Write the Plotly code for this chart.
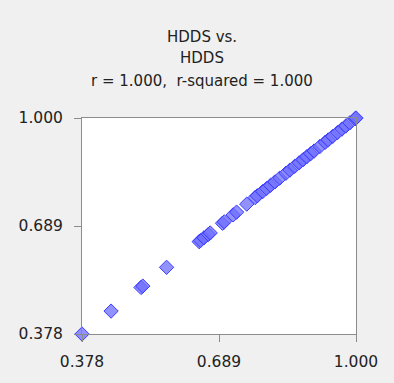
import plotly.graph_objects as go

hdds_x = [0.378, 0.444, 0.512, 0.516, 0.570, 0.644, 0.647, 0.655, 0.665, 0.669,
          0.697, 0.701, 0.721, 0.729, 0.752, 0.771, 0.776, 0.788, 0.797, 0.806,
          0.816, 0.827, 0.841, 0.850, 0.861, 0.871, 0.880, 0.888, 0.897, 0.905,
          0.918, 0.930, 0.937, 0.947, 0.958, 0.968, 0.977, 0.986, 0.998, 1.000]
hdds_y = list(hdds_x)
tick_vals = [0.378, 0.689, 1.000]
tick_text = ["0.378", "0.689", "1.000"]
title_lines = ["HDDS vs.", "HDDS", "r = 1.000,  r-squared = 1.000"]

fig = go.Figure(go.Scatter(
    x=hdds_x, y=hdds_y, mode="markers", cliponaxis=False,
    marker=dict(symbol="diamond", size=11, color="rgba(110,110,255,0.75)",
                line=dict(color="rgb(60,60,255)", width=1)),
))

axis_common = dict(range=[0.378, 1.0], tickvals=tick_vals, ticktext=tick_text,
                   showgrid=False, zeroline=False, showline=True, mirror=True,
                   linecolor="#8c8c8c", linewidth=1, ticks="outside", ticklen=7,
                   tickcolor="#8c8c8c",
                   tickfont=dict(family="DejaVu Sans", size=15.5, color="#222"))
fig.update_xaxes(ticklabelstandoff=6, **axis_common)
fig.update_yaxes(ticklabelstandoff=8, **axis_common)

title_y = [1.377, 1.276, 1.169]
for txt, yy in zip(title_lines, title_y):
    fig.add_annotation(text=txt, xref="paper", yref="paper", x=0.438, y=yy,
                       xanchor="center", yanchor="middle", showarrow=False,
                       font=dict(family="DejaVu Sans", size=15, color="#222"))

fig.update_layout(
    width=394, height=383,
    margin=dict(l=82, r=38, t=118, b=46),
    paper_bgcolor="#f0f0f0", plot_bgcolor="white",
    showlegend=False,
)
fig.write_html("out.html")
